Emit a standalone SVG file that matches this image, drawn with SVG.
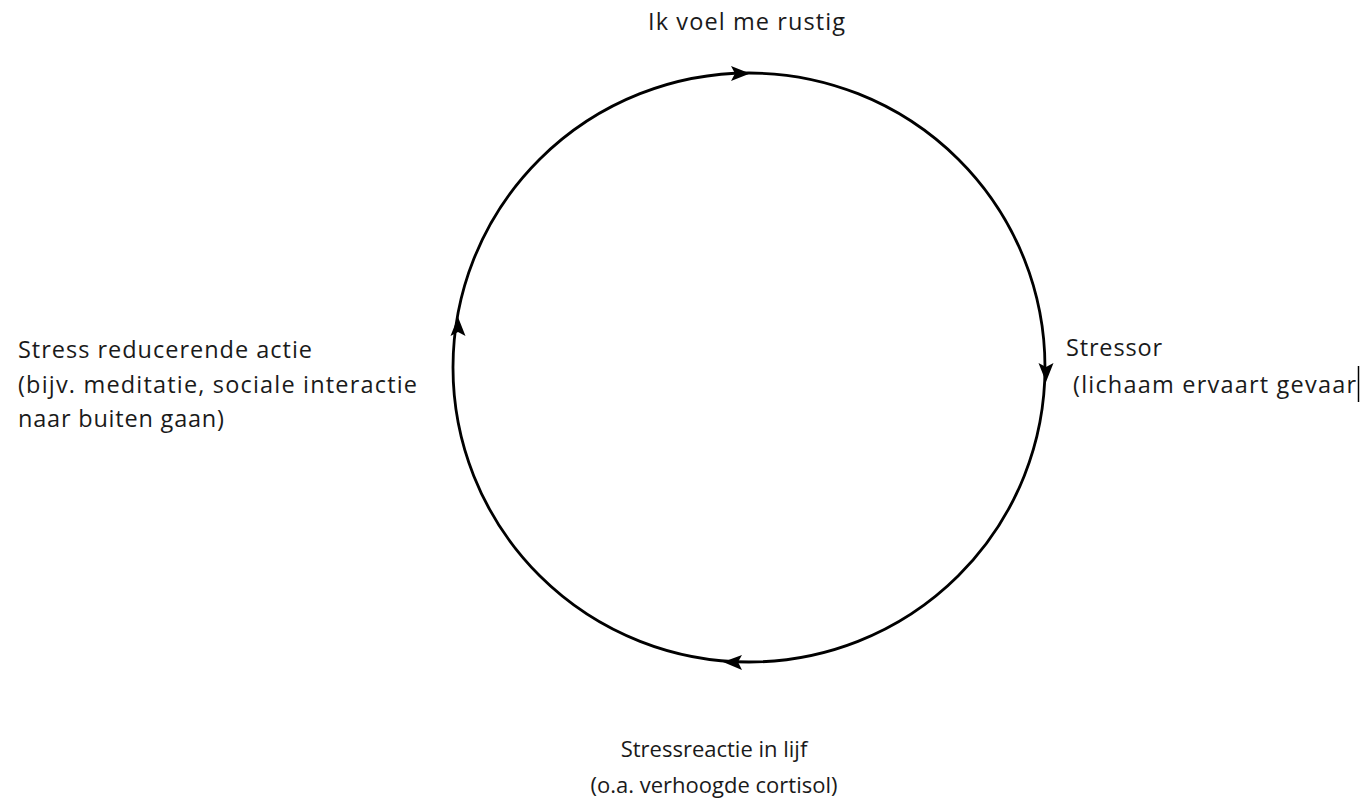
<svg xmlns="http://www.w3.org/2000/svg" width="1372" height="804" viewBox="0 0 1372 804">
<style>
text{font-family:"Open Sans","Liberation Sans",sans-serif;font-size:23.5px;fill:#1a1a1a}
.mid{text-anchor:middle;font-size:22px}
.ring{fill:none;stroke:#000;stroke-width:2.8}
.ah{fill:#000}
</style>
<rect width="1372" height="804" fill="#fff"/>
<g id="connectors">
<ellipse class="ring" cx="749" cy="367.5" rx="296" ry="294.5"/>
<path class="ah" d="M750 73.5 L731 66 L735 73.5 L731 81 Z"/>
<path class="ah" d="M1046 382 L1038.5 363 L1046 367 L1053.5 363 Z"/>
<path class="ah" d="M723 662 L742 655 L738 662 L742 670 Z"/>
<path class="ah" d="M458 317 L450.5 336 L458 332 L465.5 336 Z"/>
</g>
<g id="node-top"><text x="648" y="30" textLength="197">Ik voel me rustig</text></g>
<g id="node-right">
<text x="1066" y="356" textLength="96">Stressor</text>
<text x="1073" y="393" textLength="283">(lichaam ervaart gevaar</text>
<line x1="1358.5" y1="366" x2="1358.5" y2="402" stroke="#000" stroke-width="1.5"/>
</g>
<g id="node-bottom">
<text class="mid" x="714" y="757">Stressreactie in lijf</text>
<text class="mid" x="714" y="793">(o.a. verhoogde cortisol)</text>
</g>
<g id="node-left">
<text x="18" y="358" textLength="294">Stress reducerende actie</text>
<text x="18" y="393" textLength="399">(bijv. meditatie, sociale interactie</text>
<text x="18" y="427" textLength="206">naar buiten gaan)</text>
</g>
</svg>
